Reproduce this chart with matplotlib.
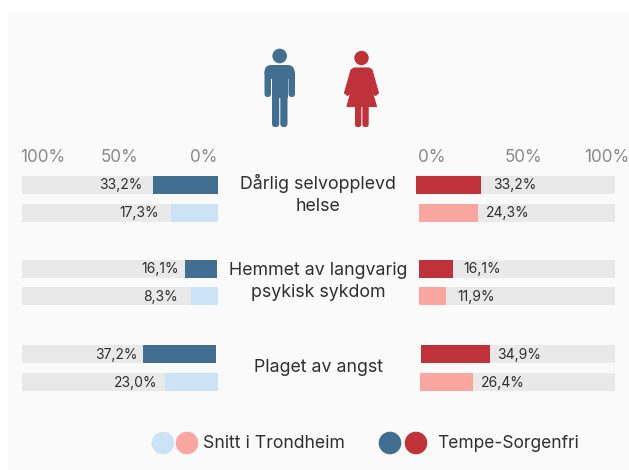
import numpy as np
import matplotlib
matplotlib.use("Agg")
import matplotlib.pyplot as plt
from matplotlib.patches import Circle, Polygon, FancyBboxPatch, Rectangle

plt.rcParams['font.family'] = ['Inter', 'DejaVu Sans']

# chart data
topics = ["Dårlig selvopplevd\nhelse", "Hemmet av langvarig\npsykisk sykdom", "Plaget av angst"]
scale_labels = ["100%", "50%", "0%"]
men_labels = ["33,2%", "17,3%", "16,1%", "8,3%", "37,2%", "23,0%"]
women_labels = ["33,2%", "24,3%", "16,1%", "11,9%", "34,9%", "26,4%"]
# drawn lengths do not always follow the printed labels
men_bars = [33.2, 24.0, 16.4, 13.8, 37.2, 27.0]
women_bars = [33.2, 30.0, 17.3, 13.8, 35.2, 27.0]
legend_names = ["Snitt i Trondheim", "Tempe-Sorgenfri"]

# layout, in pixels of the 629x470 picture
W, H = 629, 470
row_top = [176, 204, 260, 287, 345, 373]
row_h = 18
men_end = [218, 218, 217, 218, 216, 218]
women_start = [416, 419, 419, 419, 421, 420]
men_gap = [11, 12, 6, 13, 6, 8]
women_gap = [12, 8, 10, 11, 7, 8]
men_shade = ["#426f91", "#cbe3f5"]
women_shade = ["#bf323a", "#f9a5a0"]
track = "#e9e9e9"
ink = "#2f2f2f"

fig = plt.figure(figsize=(W / 100, H / 100), dpi=100, facecolor="white")
bg = fig.add_axes([0, 0, 1, 1])
bg.set_xlim(0, W)
bg.set_ylim(H, 0)
bg.axis("off")
bg.add_patch(Rectangle((8, 12), W - 8, H - 12, fc="#fafafa", ec="none"))


def bar_axes(x0, x1, flip):
    ax = fig.add_axes([x0 / W, 0, (x1 - x0) / W, 1])
    ax.set_xlim(100, 0) if flip else ax.set_xlim(0, 100)
    ax.set_ylim(H, 0)
    ax.axis("off")
    ax.patch.set_alpha(0)
    return ax


men_ax = bar_axes(22, 218, True)
women_ax = bar_axes(419, 615, False)
px = 100 / 196

for i, y in enumerate(row_top):
    inset = (218 - men_end[i]) * px
    men_ax.barh(y, 100 - inset, left=inset, height=row_h, align="edge", color=track)
    men_ax.barh(y, men_bars[i], left=inset, height=row_h, align="edge", color=men_shade[i % 2])
    men_ax.text(inset + men_bars[i] + men_gap[i] * px, y + 9.5, men_labels[i], ha="right", va="center",
                fontsize=10, color=ink)

    start = (women_start[i] - 419) * px
    women_ax.barh(y, 100 - start, left=start, height=row_h, align="edge", color=track, clip_on=False)
    women_ax.barh(y, women_bars[i], left=start, height=row_h, align="edge", color=women_shade[i % 2], clip_on=False)
    women_ax.text(start + women_bars[i] + women_gap[i] * px, y + 9.5, women_labels[i], ha="left", va="center",
                  fontsize=10, color=ink)

# scale labels
for lab, x in zip(scale_labels, [43, 120, 204]):
    bg.text(x, 157, lab, ha="center", va="center", fontsize=12.3, color="#8a8a8a")
for lab, x in zip(scale_labels[::-1], [432, 524, 607]):
    bg.text(x, 157, lab, ha="center", va="center", fontsize=12.3, color="#8a8a8a")

# topic labels
for lab, y in zip(topics, [194.5, 281.5, 367.5]):
    bg.text(318, y, lab, ha="center", va="center", fontsize=12.8, color=ink, linespacing=1.38)

# man icon
blue = men_shade[0]
bg.add_patch(Circle((279.7, 56), 7.3, fc=blue, ec="none"))
bg.add_patch(FancyBboxPatch((264.5, 65), 30, 14, boxstyle="round,pad=0,rounding_size=7", fc=blue, ec="none"))
bg.add_patch(Rectangle((272, 72), 15.5, 26, fc=blue, ec="none"))
bg.add_patch(FancyBboxPatch((264.5, 70), 6.5, 27, boxstyle="round,pad=0,rounding_size=3", fc=blue, ec="none"))
bg.add_patch(FancyBboxPatch((288.5, 70), 6.5, 27, boxstyle="round,pad=0,rounding_size=3", fc=blue, ec="none"))
bg.add_patch(FancyBboxPatch((272, 90), 7.2, 37, boxstyle="round,pad=0,rounding_size=3", fc=blue, ec="none"))
bg.add_patch(FancyBboxPatch((280.3, 90), 7.2, 37, boxstyle="round,pad=0,rounding_size=3", fc=blue, ec="none"))

# woman icon
red = women_shade[0]
bg.add_patch(Circle((361.5, 58), 7.2, fc=red, ec="none"))
bg.add_patch(Polygon([(354, 68), (369, 68), (372, 70), (378.5, 93), (375.5, 95.5), (373.5, 94), (370.5, 86),
                      (376.5, 106.5), (347, 106.5), (352.5, 86), (349.5, 94), (347.5, 95.5), (344.5, 93), (351, 70)],
                     closed=True, fc=red, ec=red, lw=0.8, joinstyle="round"))
bg.add_patch(FancyBboxPatch((355, 100), 6.3, 27, boxstyle="round,pad=0,rounding_size=2.5", fc=red, ec="none"))
bg.add_patch(FancyBboxPatch((362.4, 100), 6.3, 27, boxstyle="round,pad=0,rounding_size=2.5", fc=red, ec="none"))

# legend
for x, c in zip([163, 187, 390, 416], [men_shade[1], women_shade[1], men_shade[0], women_shade[0]]):
    bg.add_patch(Circle((x, 443), 11.3, fc=c, ec="none"))
bg.text(203, 444, legend_names[0], ha="left", va="center", fontsize=12.7, color=ink)
bg.text(437, 444, legend_names[1], ha="left", va="center", fontsize=12.5, color=ink)

fig.savefig("out.png", dpi=100)
